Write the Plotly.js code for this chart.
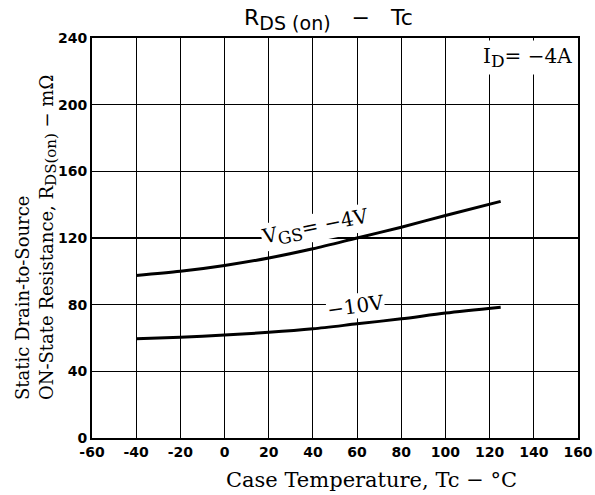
<!DOCTYPE html>
<html>
<head>
<meta charset="utf-8">
<script src="https://cdn.plot.ly/plotly-3.0.1.min.js"></script>
<style>html,body{margin:0;padding:0;background:#fff;}#chart{width:595px;height:495px;}</style>
</head>
<body>
<div id="chart"></div>
<script>
const tempC = [-40, -20, 0, 20, 40, 60, 80, 100, 125];
const rds_vgs4 = [97.5, 100, 103.5, 108, 113.5, 120, 126.5, 133.5, 142];
const rds_vgs10 = [59.5, 60.5, 61.8, 63.4, 65.5, 68.5, 71.5, 75, 78.5];
const xTicks = [-60, -40, -20, 0, 20, 40, 60, 80, 100, 120, 140, 160];
const yTicks = [0, 40, 80, 120, 160, 200, 240];

const lineStyle = {color: '#000', width: 3, shape: 'spline', smoothing: 0.8};
const traces = [
  {x: tempC, y: rds_vgs4, mode: 'lines', line: lineStyle, name: 'VGS=-4V', hoverinfo: 'skip'},
  {x: tempC, y: rds_vgs10, mode: 'lines', line: lineStyle, name: 'VGS=-10V', hoverinfo: 'skip'}
];

const tickFont = {family: 'DejaVu Sans', size: 14, color: '#000', weight: 'bold'};
const serif = 'DejaVu Serif';

const layout = {
  width: 595, height: 495,
  margin: {l: 92, r: 17, t: 38, b: 57},
  paper_bgcolor: '#fff', plot_bgcolor: '#fff',
  showlegend: false,
  title: {text: 'R<sub><span style="font-size:19px">DS (on)</span></sub>   −   Tc',
          font: {family: 'DejaVu Sans', size: 22, color: '#000'},
          x: 0.552, xanchor: 'center', y: 0.965, yanchor: 'middle'},
  xaxis: {
    range: [-60, 160], tickvals: xTicks, ticktext: xTicks.map(String),
    showgrid: true, gridcolor: '#000', gridwidth: 1.1,
    showline: true, linecolor: '#000', linewidth: 2, mirror: true,
    ticks: '', tickfont: tickFont, zeroline: false, fixedrange: true
  },
  yaxis: {
    range: [0, 240], tickvals: yTicks, ticktext: yTicks.map(String),
    showgrid: true, gridcolor: '#000', gridwidth: 1.1,
    showline: true, linecolor: '#000', linewidth: 2, mirror: true,
    ticks: '', tickfont: tickFont, zeroline: false, fixedrange: true
  },
  annotations: [
    {xref: 'paper', yref: 'paper', x: 0.575, y: -0.07, xanchor: 'center', yanchor: 'top',
     text: 'Case Temperature, Tc − °C', showarrow: false,
     font: {family: serif, size: 21, color: '#000'}},
    {xref: 'paper', yref: 'paper', x: -0.115, y: 0.5, xanchor: 'center', yanchor: 'middle',
     textangle: -90, align: 'left', showarrow: false,
     text: 'Static Drain-to-Source<br>ON-State Resistance, R<sub><span style="font-size:15px">DS(on)</span></sub> − mΩ',
     font: {family: serif, size: 18, color: '#000'}},
    {xref: 'x', yref: 'y', x: 160, y: 240, xanchor: 'right', yanchor: 'top', xshift: -2, yshift: -2,
     text: 'I<sub><span style="font-size:17px">D</span></sub>= −4A', showarrow: false, bgcolor: '#fff', borderpad: 3,
     font: {family: serif, size: 20, color: '#000'}},
    {xref: 'x', yref: 'y', x: 41, y: 126.5, textangle: -11.5,
     text: 'V<sub><span style="font-size:17px">GS</span></sub>= −4V', showarrow: false, bgcolor: '#fff', borderpad: 0,
     font: {family: serif, size: 20, color: '#000'}},
    {xref: 'x', yref: 'y', x: 59.5, y: 79, textangle: -8,
     text: '−10V', showarrow: false, bgcolor: '#fff', borderpad: 0,
     font: {family: serif, size: 20, color: '#000'}}
  ]
};

Plotly.newPlot('chart', traces, layout, {staticPlot: true, displayModeBar: false});
</script>
</body>
</html>
